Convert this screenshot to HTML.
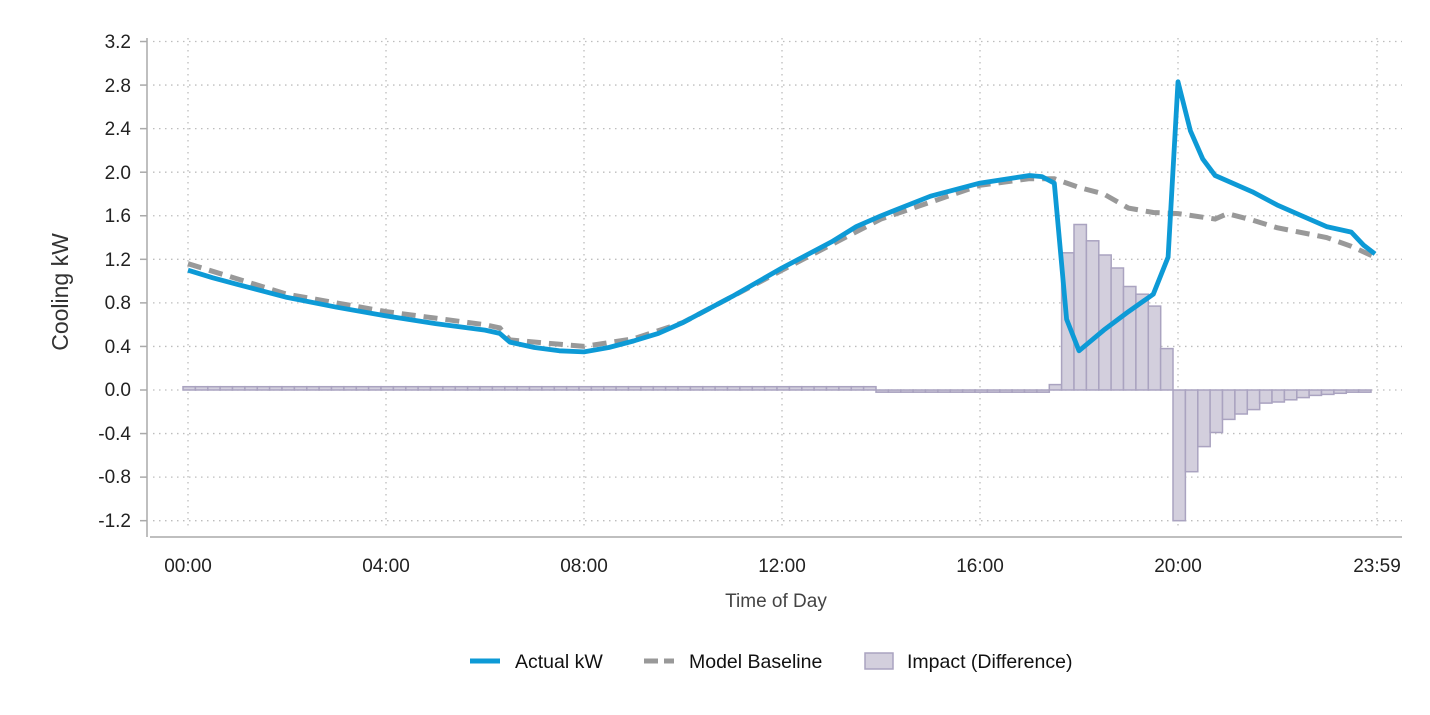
<!DOCTYPE html>
<html><head><meta charset="utf-8"><style>
html,body{margin:0;padding:0;background:#fff;}
svg{display:block;font-family:"Liberation Sans",Arial,sans-serif;}
</style></head><body>
<svg id="c" width="1430" height="715" viewBox="0 0 1430 715" xmlns="http://www.w3.org/2000/svg">
<g id="grid" stroke="#bdbdbd" stroke-width="1.3" stroke-dasharray="1.5 4.5"></g>
<g id="bars" fill="#d3cfdd" stroke="#aaa3c0" stroke-width="1.5"></g>
<path id="base" fill="none" stroke="#999" stroke-width="5" stroke-dasharray="14 8"/>
<path id="act" fill="none" stroke="#0d9ad6" stroke-width="4.8" stroke-linejoin="round"/>
<line x1="147" y1="38" x2="147" y2="537" stroke="#aaa" stroke-width="1.5"/>
<line x1="150" y1="537" x2="1402" y2="537" stroke="#aaa" stroke-width="1.5"/>
<g id="yt" stroke="#aaa" stroke-width="1.5"></g>
<g font-size="19" fill="#222" text-anchor="end">
<text x="131" y="48">3.2</text><text x="131" y="92">2.8</text><text x="131" y="135">2.4</text>
<text x="131" y="179">2.0</text><text x="131" y="222">1.6</text><text x="131" y="266">1.2</text>
<text x="131" y="309">0.8</text><text x="131" y="353">0.4</text><text x="131" y="396">0.0</text>
<text x="131" y="440">-0.4</text><text x="131" y="483">-0.8</text><text x="131" y="527">-1.2</text>
</g>
<g font-size="19" fill="#222" text-anchor="middle">
<text x="188" y="572">00:00</text><text x="386" y="572">04:00</text><text x="584" y="572">08:00</text>
<text x="782" y="572">12:00</text><text x="980" y="572">16:00</text><text x="1178" y="572">20:00</text>
<text x="1377" y="572">23:59</text>
</g>
<text x="776" y="607" font-size="19" fill="#444" text-anchor="middle">Time of Day</text>
<text transform="translate(68,292) rotate(-90)" font-size="23" fill="#333" text-anchor="middle">Cooling kW</text>
<line x1="470" y1="661" x2="500" y2="661" stroke="#0d9ad6" stroke-width="5"/>
<text x="515" y="668" font-size="19.5" fill="#111">Actual kW</text>
<line x1="644" y1="661" x2="674" y2="661" stroke="#999" stroke-width="5" stroke-dasharray="14 6"/>
<text x="689" y="668" font-size="19.5" fill="#111">Model Baseline</text>
<rect x="865" y="653" width="28" height="16" fill="#d3cfdd" stroke="#aaa3c0" stroke-width="1.5"/>
<text x="907" y="668" font-size="19.5" fill="#111">Impact (Difference)</text>
</svg>
<script>
var X=function(h){return 188+h*49.5;},Y=function(v){return 390-v*108.9;};
var g=document.getElementById('grid'),s='';
for(var i=0;i<12;i++){var y=Y(3.2-i*0.4);s+='<line x1="153" y1="'+y+'" x2="1402" y2="'+y+'"/>';}
for(var h=0;h<=24;h+=4){var x=h==24?1377:X(h);s+='<line x1="'+x+'" y1="38" x2="'+x+'" y2="530"/>';}
g.innerHTML=s;
var t='';for(var i=0;i<12;i++){var y=Y(3.2-i*0.4);t+='<line x1="140" y1="'+y+'" x2="147" y2="'+y+'"/>';}
document.getElementById('yt').innerHTML=t;
function P(a){return a.map(function(p,i){return (i?'L':'M')+X(p[0]).toFixed(1)+','+Y(p[1]).toFixed(1);}).join('');}
var A=[[0,1.1],[0.5,1.03],[1,0.97],[1.5,0.91],[2,0.85],[3,0.76],[4,0.68],[5,0.61],[6,0.55],[6.3,0.52],[6.5,0.44],[7,0.39],[7.5,0.36],[8,0.35],[8.5,0.39],[9,0.45],[9.5,0.52],[10,0.62],[11,0.86],[12,1.12],[13,1.36],[13.5,1.5],[14,1.6],[15,1.78],[16,1.9],[17,1.97],[17.25,1.96],[17.5,1.9],[17.75,0.65],[18,0.36],[18.5,0.55],[19,0.72],[19.5,0.88],[19.8,1.22],[20,2.83],[20.25,2.38],[20.5,2.12],[20.75,1.97],[21.5,1.82],[22,1.7],[22.5,1.6],[23,1.5],[23.5,1.45],[23.75,1.33],[23.98,1.25]];
var B=[[0,1.16],[2,0.88],[4,0.72],[6,0.6],[6.3,0.57],[6.5,0.46],[8,0.4],[9,0.47],[10,0.62],[12,1.1],[14,1.57],[16,1.88],[17,1.94],[17.5,1.94],[18,1.86],[18.5,1.8],[19,1.67],[19.5,1.63],[20,1.62],[20.75,1.57],[21,1.62],[21.5,1.56],[22,1.49],[23,1.4],[23.5,1.32],[23.98,1.22]];
document.getElementById('act').setAttribute('d',P(A));
document.getElementById('base').setAttribute('d',P(B));
var bw=49.5/4,bs='';
var big={70:0.05,71:1.26,72:1.52,73:1.37,74:1.24,75:1.12,76:0.95,77:0.88,78:0.77,79:0.38,80:-1.2,81:-0.75,82:-0.52,83:-0.39,84:-0.27,85:-0.22,86:-0.18,87:-0.12,88:-0.11,89:-0.09,90:-0.07,91:-0.05,92:-0.04,93:-0.03,94:-0.02,95:-0.02};
for(var k=0;k<96;k++){var v=big[k]!==undefined?big[k]:(k<56?0.03:-0.02);
var x=X(k/4)-5;var y0=Y(0),y1=Y(v);
bs+='<rect x="'+x.toFixed(1)+'" y="'+Math.min(y0,y1).toFixed(1)+'" width="'+bw.toFixed(1)+'" height="'+Math.abs(y1-y0).toFixed(1)+'"/>';}
document.getElementById('bars').innerHTML=bs;
</script>
</body></html>
